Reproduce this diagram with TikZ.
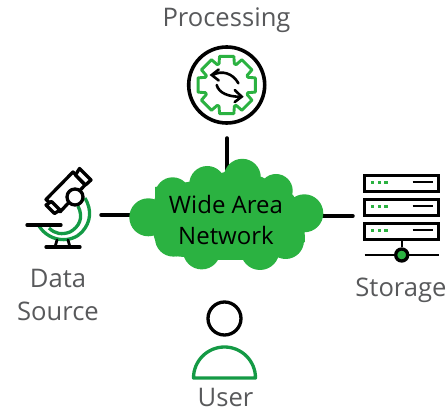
\documentclass[tikz,border=0pt]{standalone}
\usepackage{fontspec}
\setmainfont{Open Sans}
\definecolor{lgreen}{HTML}{2BB241}
\definecolor{dgreen}{HTML}{149A45}
\definecolor{lab}{HTML}{58595B}
\tikzset{
  ink/.style={draw=black,line width=3.3pt,line cap=round,line join=round},
  thin ink/.style={draw=black,line width=2.8pt,line cap=round},
  greenline/.style={draw=dgreen,line width=3.3pt},
  caption/.style={font=\fontsize{25.6}{30}\selectfont,text=lab,inner sep=0pt,anchor=base},
  puff/.style={fill=lgreen,draw=none},
  link/.style={draw=black,line width=3.5pt,line cap=round},
  rack/.style={draw=black,line width=3pt,fill=white,minimum width=74pt,minimum height=16pt,inner sep=0pt},
  led/.style={fill=lgreen,draw=none,minimum width=3.6pt,minimum height=2.8pt,inner sep=0pt},
}
\begin{document}
\begin{tikzpicture}[x=1pt,y=-1pt]
\useasboundingbox (0,0) rectangle (448,414);
% connectors first, cloud on top
\coordinate (topC) at (227,170);
\coordinate (topP) at (227,138);
\coordinate (leftC) at (135,215);
\coordinate (leftP) at (101,215);
\coordinate (rightC) at (318,216);
\coordinate (rightP) at (353,216);
\draw[link] (topC) -- (topP);
\draw[link] (leftC) -- (leftP);
\draw[link] (rightC) -- (rightP);
% cloud
\foreach \x/\y/\r in {148.3/217.3/19,172.7/195/17.7,207.3/184/18,242.3/177.3/18.5,276/190.7/16.7,304.3/213.3/19,285.7/240.7/18.3,260/250.7/19.3,228.3/243.3/16.7,201.7/250.7/18.7,173.3/238.3/18.3}
  \fill[puff] (\x,\y) circle[radius=\r];
\fill[puff] (148,217) -- (155,198) -- (155,187) -- (188,182) -- (225,172) -- (262,177) -- (293,195) -- (304,213) -- (305,242) -- (272,258) -- (240,260) -- (218,260) -- (173,256) -- (155,240) -- cycle;
\node[align=center,font=\fontsize{24}{31}\selectfont,text=black,inner sep=0pt] (wan) at (226,220.5) {Wide Area\\Network};
% processing
\node[caption] (proc) at (226.5,27) {Processing};
\node[circle,draw=black,line width=3.6pt,minimum size=76pt,inner sep=0pt] (gearring) at (226.7,85) {};
\begin{scope}[shift={(226.7,85)}]
\foreach \a in {0,45,...,315}
  \draw[draw=lgreen,line width=2.9pt,line join=round,line cap=round]
    ({\a-20}:22.5) -- ({\a-14}:29.5) -- ({\a+14}:29.5) -- ({\a+20}:22.5) -- ({\a+25}:22.5);
\draw[black,line width=2.6pt,line cap=round] (11.7,-1.7) .. controls (6,-12) and (-5,-15) .. (-14,-10);
\draw[black,line width=2.6pt,line cap=round,line join=miter] (-8,-15.5) -- (-15,-10) -- (-8,-4.5);
\draw[black,line width=2.6pt,line cap=round] (-10,0) .. controls (-8,8) and (2,12) .. (14,11.7);
\draw[black,line width=2.6pt,line cap=round,line join=miter] (8,5) -- (15,11.7) -- (8,17);
\end{scope}
% microscope
\draw[greenline] (85,198) .. controls (92,210) and (91,222) .. (82,232) .. controls (72,243) and (50,243) .. (39,226);
\draw[greenline] (78,206) .. controls (84,218) and (79,227) .. (70,232) .. controls (62,235) and (55,234) .. (49,228);
\draw[thin ink,line width=3.3pt] (27,225) -- (61,225);
\draw[thin ink,line width=3.3pt] (46,247) -- (80,247);
\draw[thin ink] (57,240) -- (55,247);
\draw[thin ink] (68,240) -- (70,247);
\draw[ink,fill=white] (46,199.5) -- (73,172) -- (85,185) -- (60,212) -- cycle;
\draw[ink,fill=white] (75.5,175) -- (79.5,168.5) -- (91,180) -- (85.5,185) -- cycle;
\draw[ink,fill=white] (46,205) -- (51.5,201.5) -- (60,210) -- (54.5,213.5) -- cycle;
\node[circle,draw=black,line width=3.3pt,fill=white,minimum size=16pt,inner sep=0pt] (lens) at (75,197) {};
\node[caption] (src1) at (58,288) {Data};
\node[caption] (src2) at (58,320.5) {Source};
% storage
\foreach \n/\y in {a/184,b/208,c/232}{
  \node[rack] (rack\n) at (401.7,\y) {};
  \foreach \x in {372.3,379.3,386} \node[led] at (\x,\y-1.8) {};
  \draw[draw=black,line width=2.4pt] (412.7,\y-1.8) -- (432.7,\y-1.8);
}
\node[circle,draw=black,line width=3.3pt,fill=lgreen,minimum size=12pt,inner sep=0pt] (disk) at (401.7,255) {};
\coordinate (busL) at (364.5,255);
\coordinate (busR) at (439,255);
\draw[draw=black,line width=2.4pt] (rackc.south) -- (disk.north);
\draw[draw=black,line width=2.4pt] (busL) -- (disk.west);
\draw[draw=black,line width=2.4pt] (disk.east) -- (busR);
\node[caption] (store) at (401,297) {Storage};
% user
\node[circle,draw=black,line width=3.3pt,minimum size=33pt,inner sep=0pt] (head) at (224.5,318.5) {};
\draw[greenline,line join=round] (193.5,378) arc[start angle=180,end angle=360,radius=31] -- cycle;
\node[caption] (user) at (225.5,407) {User};
\end{tikzpicture}
\end{document}
